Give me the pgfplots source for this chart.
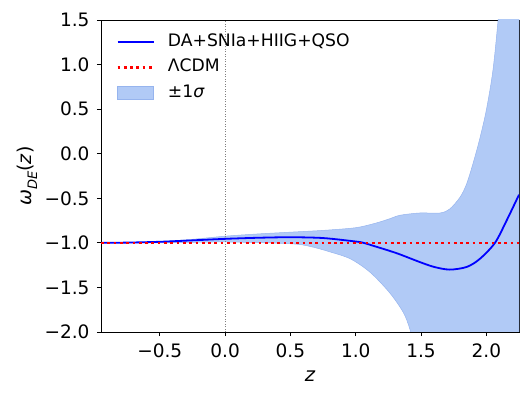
\documentclass[border=0pt]{standalone}
\usepackage{fontspec}
\setmainfont{DejaVu Sans}
\usepackage{pgfplots}
\usepackage{pgfplotstable}
\pgfplotsset{compat=1.18}
\usepgfplotslibrary{fillbetween}
\definecolor{bandfill}{RGB}{177,202,246}
\definecolor{bandedge}{RGB}{150,180,238}
\pgfplotsset{
  mylineleg/.style={legend image code/.code={\draw[##1] (0bp,0bp) -- (36bp,0bp);}},
  myarealeg/.style={legend image code/.code={\draw[##1] (0bp,-6.5bp) rectangle (36bp,6.5bp);}},
}

\pgfplotstableread{
z w
-0.95 -1.000
-0.75 -0.997
-0.50 -0.988
-0.25 -0.972
0.00 -0.955
0.25 -0.943
0.50 -0.937
0.75 -0.946
1.00 -0.985
1.06 -1.000
1.15 -1.040
1.26 -1.090
1.34 -1.130
1.49 -1.215
1.60 -1.270
1.72 -1.300
1.85 -1.270
1.95 -1.180
2.066 -1.000
2.155 -0.750
2.25 -0.460
}\meancurve

\pgfplotstableread{
z w
-0.95 -1.000
-0.75 -0.996
-0.50 -0.985
-0.25 -0.960
0.00 -0.925
0.25 -0.900
0.50 -0.880
0.75 -0.860
1.00 -0.830
1.15 -0.780
1.26 -0.730
1.34 -0.690
1.49 -0.665
1.645 -0.665
1.72 -0.620
1.80 -0.485
1.85 -0.335
1.90 -0.100
1.95 0.170
2.00 0.490
2.05 0.930
2.09 1.500
2.15 2.500
2.25 4.500
}\uppercurve

\pgfplotstableread{
z w
-0.95 -1.000
-0.50 -1.000
0.00 -0.990
0.50 -1.010
0.65 -1.040
0.80 -1.100
0.96 -1.180
1.11 -1.330
1.26 -1.560
1.364 -1.780
1.415 -1.970
1.50 -2.400
1.70 -3.500
2.00 -5.000
2.25 -6.500
}\lowercurve

\begin{document}
\begin{tikzpicture}[font=\fontsize{18.5bp}{22bp}\selectfont]
\begin{axis}[
  at={(0,0)}, anchor=south west,
  scale only axis, width=418bp, height=312bp,
  xmin=-0.95, xmax=2.25, ymin=-2, ymax=1.5,
  xtick={-0.5,0,0.5,1,1.5,2},
  xticklabels={−0.5,0.0,0.5,1.0,1.5,2.0},
  ytick={-2,-1.5,-1,-0.5,0,0.5,1,1.5},
  yticklabels={−2.0,−1.5,−1.0,−0.5,0.0,0.5,1.0,1.5},
  xtick pos=bottom, ytick pos=left,
  tick align=outside, major tick length=4bp,
  axis line style={black, line width=0.8bp},
  tick style={black, line width=0.8bp},
  xticklabel style={yshift=-4bp},
  yticklabel style={xshift=-4bp},
  xlabel={\itshape z},
  ylabel={{\itshape ω}\raisebox{-0.3em}{\fontsize{13bp}{14bp}\selectfont\itshape DE}(\textit{z})},
  every axis x label/.style={at={(axis description cs:0.5,-0.160)}, anchor=base, font=\fontsize{19.5bp}{22bp}\selectfont},
  every axis y label/.style={at={(axis description cs:-0.177,0.5)}, rotate=90, anchor=center, font=\fontsize{19bp}{22bp}\selectfont},
  legend cell align=left,
  legend style={draw=none, fill=none, inner sep=0pt,
    at={(axis description cs:0,1)}, anchor=north west, xshift=15bp, yshift=-13bp,
    row sep=8.7bp, column sep=13bp, font=\fontsize{17.2bp}{20bp}\selectfont,
    nodes={inner sep=0pt, text height=13bp, text depth=4bp}},
]
\addplot[name path=up, draw=none, smooth, forget plot] table[x=z,y=w] {\uppercurve};
\addplot[name path=lo, draw=none, smooth, forget plot] table[x=z,y=w] {\lowercurve};
\addplot[fill=bandfill, draw=bandedge, line width=0.5bp, forget plot] fill between[of=up and lo];
\addplot[gray, line width=0.6bp, dash pattern=on 1bp off 1.5bp, forget plot] coordinates {(0,-2) (0,1.5)};
\addplot[blue, line width=1.8bp, smooth, forget plot] table[x=z,y=w] {\meancurve};
\addplot[red, line width=2.7bp, dash pattern=on 2.7bp off 3.6bp, forget plot] coordinates {(-0.95,-1) (2.25,-1)};
\addlegendimage{blue, line width=1.8bp, mylineleg}
\addlegendentry{DA+SNIa+HIIG+QSO}
\addlegendimage{red, line width=2.7bp, dash pattern=on 2.7bp off 3.6bp, mylineleg}
\addlegendentry{ΛCDM}
\addlegendimage{fill=bandfill, draw=bandedge, line width=0.5bp, myarealeg}
\addlegendentry{±1{\itshape σ}}
\end{axis}
\pgfresetboundingbox
\path[use as bounding box] (-101bp,-67bp) rectangle (430bp,332bp);
\end{tikzpicture}
\end{document}
